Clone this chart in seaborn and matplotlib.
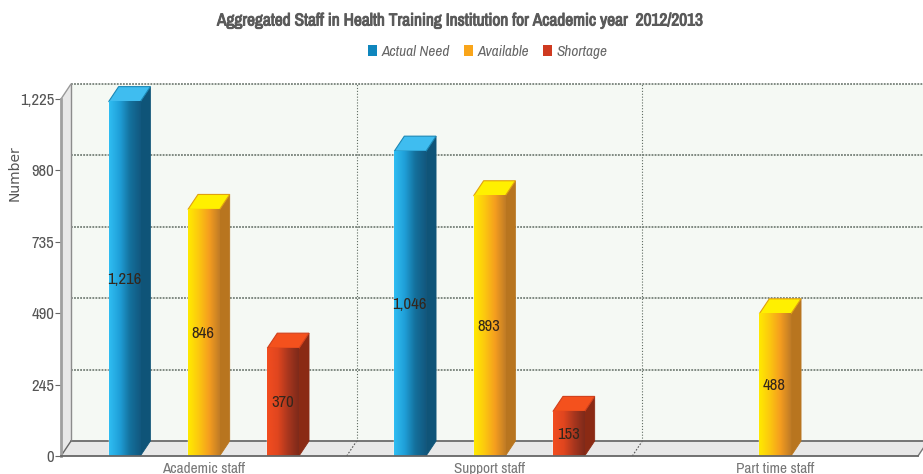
import pandas as pd
import numpy as np
import matplotlib
matplotlib.use("Agg")
import matplotlib.pyplot as plt
import matplotlib.patheffects as pe
import seaborn as sns
from matplotlib.colors import LinearSegmentedColormap
from matplotlib.patches import Polygon, Patch

# Chart data
categories = ["Academic staff", "Support staff", "Part time staff"]
actual_need = [1216, 1046, None]
available = [846, 893, 488]
shortage = [370, 153, None]
y_ticks = [0, 245, 490, 735, 980, 1225]
series_names = ["Actual Need", "Available", "Shortage"]

legend_colors = ["#0f86bd", "#f9a51a", "#cf3a20"]
gradients = [
    ["#2fbdf2", "#1f9fd8", "#14709c", "#12587f"],
    ["#ffea00", "#fcc80f", "#f59d1f", "#c07c26"],
    ["#f24d1f", "#e0461f", "#a8361e", "#7e2a1a"],
]
side_colors = ["#0f5478", "#b8751f", "#8a2a14"]
top_colors = ["#3fbdf0", "#fff000", "#f4511d"]
edge_colors = ["#1b87b5", "#e0a010", "#d0401c"]

df = pd.DataFrame({
    "Category": categories * 3,
    "Series": [s for s in series_names for _ in categories],
    "Value": actual_need + available + shortage,
})

sns.set_theme(style="white")
plt.rcParams["font.family"] = ["Archivo Narrow", "Liberation Sans", "DejaVu Sans"]

W, H = 923, 474
fig = plt.figure(figsize=(W / 100, H / 100), dpi=100, facecolor="white")
ax = fig.add_axes([61 / W, (H - 456) / H, (918 - 61) / W, (456 - 99) / H])

sns.barplot(
    data=df, x="Category", y="Value", hue="Series", hue_order=series_names,
    order=categories, palette=legend_colors, width=0.833, gap=0.6,
    legend=False, ax=ax, zorder=3, saturation=1,
)

ax.set_xlim(-0.5, 2.5)
ax.set_ylim(0, 1225)
ax.patch.set_visible(False)

# 3D depth, 10px across and 15px up, in data units
dx = 10 / (857 / 3)
dy = 15 * 1225 / 357
left, right = -0.5, 2.5
top = 1225

# back wall, side wall, floor
ax.add_patch(Polygon([(left + dx, dy), (right + dx, dy), (right + dx, top + dy), (left + dx, top + dy)],
                     fc="#f5f9f4", ec="none", zorder=0.5, clip_on=False))
ax.add_patch(Polygon([(left, 0), (left + dx, dy), (left + dx, top + dy), (left, top)],
                     fc="#e8e8e8", ec="none", zorder=0.6, clip_on=False))
ax.add_patch(Polygon([(left, 0), (right, 0), (right + dx, dy), (left + dx, dy)],
                     fc="#e8e8e8", ec="none", zorder=0.6, clip_on=False))

# grid on the back wall
for v in y_ticks[1:]:
    ax.plot([left + dx, right + dx], [v + dy, v + dy], color="#5f6b62", lw=1.1,
            ls=(0, (1.2, 0.8)), zorder=1, clip_on=False)
for xg in [0.5, 1.5]:
    ax.plot([xg + dx, xg + dx], [dy, top + dy], color="#5f6b62", lw=0.8,
            ls=(0, (1, 1.6)), zorder=1, clip_on=False)
    ax.plot([xg, xg + dx], [0, dy], color="#555555", lw=0.8,
            ls=(0, (1.5, 1.5)), zorder=1, clip_on=False)

ax.plot([left + dx, right + dx], [dy, dy], color="#6b6b6b", lw=1.3, zorder=1.2, clip_on=False)
ax.plot([left + dx, left + dx], [dy, top + dy], color="#8c8c8c", lw=1, zorder=1.2, clip_on=False)
ax.plot([left, left + dx], [0, dy], color="#666666", lw=1, zorder=1.2, clip_on=False)
ax.plot([left, left + dx], [top, top + dy], color="#999999", lw=1, zorder=1.2, clip_on=False)
ax.plot([right, right + dx], [0, dy], color="#777777", lw=1, zorder=1.2, clip_on=False)

# bars drawn by seaborn get gradient faces, a side and a top
for i, container in enumerate(ax.containers):
    cmap = LinearSegmentedColormap.from_list(series_names[i], gradients[i])
    for bar in container:
        x0, y0 = bar.get_x(), bar.get_y()
        w, h = bar.get_width(), bar.get_height()
        x1, y1 = x0 + w, y0 + h
        ax.add_patch(Polygon([(x1, y0), (x1 + dx, y0 + dy), (x1 + dx, y1 + dy), (x1, y1)],
                             fc=side_colors[i], ec=side_colors[i], lw=0.6, zorder=3.1, clip_on=False))
        ax.add_patch(Polygon([(x0, y1), (x1, y1), (x1 + dx, y1 + dy), (x0 + dx, y1 + dy)],
                             fc=top_colors[i], ec=edge_colors[i], lw=0.8, zorder=3.2, clip_on=False))
        ax.imshow(np.linspace(0, 1, 64).reshape(1, -1), cmap=cmap, aspect="auto",
                  extent=[x0, x1, y0, y1], zorder=3.3, interpolation="bilinear", clip_on=False)
        ax.text(x0 + w / 2 - 0.002, y0 + h / 2 - 3, f"{h:,.0f}", ha="center", va="center",
                fontsize=12, color="#33261c", zorder=4)

ax.set_xlim(-0.5, 2.5)
ax.set_ylim(0, 1225)

# axes and labels
sns.despine(ax=ax, top=True, right=True)
ax.spines["left"].set_color("#a0a0a0")
ax.spines["left"].set_linewidth(2)
ax.spines["left"].set_zorder(2)
ax.spines["bottom"].set_color("#666666")
ax.spines["bottom"].set_linewidth(1.3)
ax.spines["bottom"].set_zorder(5)

ax.set_yticks(y_ticks)
ax.set_yticklabels([f"{v:,}" for v in y_ticks], fontsize=12, color="#555555")
ax.tick_params(axis="y", left=True, length=4, width=0.8, color="#666666", pad=1)
ax.tick_params(axis="x", bottom=False, pad=-2, labelsize=11, labelcolor="#777777")
ax.set_xlabel("")
ax.set_ylabel("")

fig.text(15 / W, 1 - 173 / H, "Number", rotation=90, ha="center", va="center",
         fontsize=10, color="#555555", family="DejaVu Sans")
title = fig.text(461 / W, 1 - 21 / H, "Aggregated Staff in Health Training Institution for Academic year  2012/2013",
                 ha="center", va="center", fontsize=12.5, color="#5a5a5a")
title.set_path_effects([pe.withStroke(linewidth=0.7, foreground="#5a5a5a")])

handles = [Patch(fc=c, ec="none") for c in legend_colors]
fig.legend(handles, series_names, loc="center", bbox_to_anchor=(488 / W, 1 - 52 / H), ncols=3,
           frameon=False, handlelength=0.6, handleheight=0.7, handletextpad=0.3, columnspacing=0.9,
           prop={"style": "italic", "size": 11}, labelcolor="#666666")

plt.savefig("out.png", dpi=100)
